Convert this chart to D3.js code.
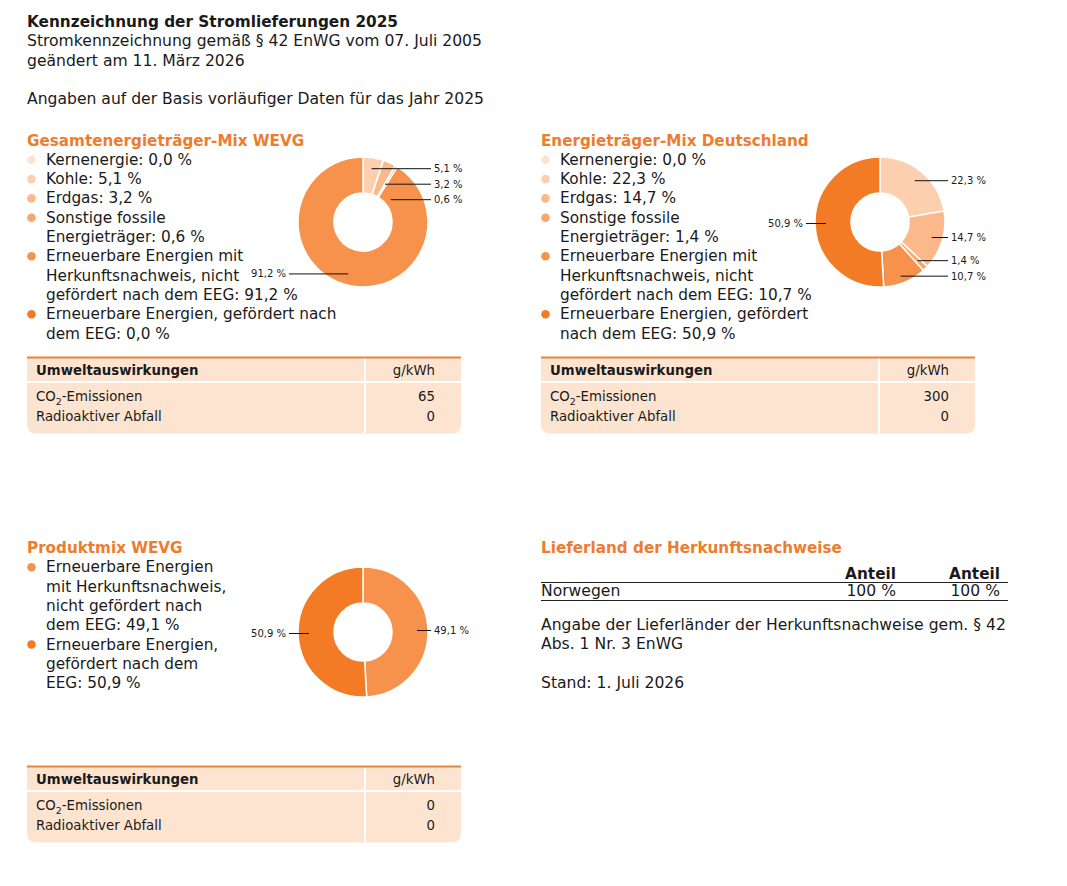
<!DOCTYPE html>
<html>
<head>
<meta charset="utf-8">
<script src="https://cdn.jsdelivr.net/npm/d3@7"></script>
<style>
  body { margin: 0; background: #fff; }
  svg { display: block; font-family: "DejaVu Sans", Verdana, sans-serif; }
  .title { font-weight: bold; fill: #ee7c2f; font-size: 15.2px; }
  .txt { fill: #1a1a1a; font-size: 15.3px; }
  .wide { font-size: 15.6px; }
  .small { fill: #1a1a1a; font-size: 10px; }
  .tbl { fill: #1a1a1a; font-size: 13.3px; }
</style>
</head>
<body>
<div id="chart"></div>
<script>
// ---- data ----
const headerLines = [
  "Kennzeichnung der Stromlieferungen 2025",
  "Stromkennzeichnung gemäß § 42 EnWG vom 07. Juli 2005",
  "geändert am 11. März 2026",
  "",
  "Angaben auf der Basis vorläufiger Daten für das Jahr 2025"
];

// energy source categories ("|" = line break in the legend)
const wevgCategories = [
  "Kernenergie", "Kohle", "Erdgas", "Sonstige fossile|Energieträger",
  "Erneuerbare Energien mit|Herkunftsnachweis, nicht|gefördert nach dem EEG",
  "Erneuerbare Energien, gefördert nach|dem EEG"
];
const wevgValues = [0.0, 5.1, 3.2, 0.6, 91.2, 0.0];

const deCategories = [
  "Kernenergie", "Kohle", "Erdgas", "Sonstige fossile|Energieträger",
  "Erneuerbare Energien mit|Herkunftsnachweis, nicht|gefördert nach dem EEG",
  "Erneuerbare Energien, gefördert|nach dem EEG"
];
const deValues = [0.0, 22.3, 14.7, 1.4, 10.7, 50.9];

const productCategories = [
  "Erneuerbare Energien|mit Herkunftsnachweis,|nicht gefördert nach|dem EEG",
  "Erneuerbare Energien,|gefördert nach dem|EEG"
];
const productValues = [49.1, 50.9];

const impactRows = ["CO2-Emissionen", "Radioaktiver Abfall"];
const wevgImpact = [65, 0];
const deImpact = [300, 0];
const productImpact = [0, 0];

const originCountries = ["Norwegen"];
const originShareA = [100];
const originShareB = [100];
const originNote = [
  "Angabe der Lieferländer der Herkunftsnachweise gem. § 42",
  "Abs. 1 Nr. 3 EnWG",
  "",
  "Stand: 1. Juli 2026"
];

// ---- styles ----
const mixColors = ['#fde3d0', '#fccfae', '#fbb98b', '#f9a66b', '#f6924b', '#f47b25'];
const productColors = [mixColors[4], mixColors[5]];
const tableBg = '#fde4d1';
const tableLine = '#e8863a';

const width = 1067, height = 886;
const de = d3.formatLocale({decimal: ",", thousands: ".", grouping: [3], currency: ["", "€"]});
const fmt1 = de.format(".1f");

const svg = d3.select('#chart').append('svg')
    .attr('width', width)
    .attr('height', height);

// header
svg.append('g').selectAll('text')
    .data(headerLines)
  .join('text')
    .attr('class', (d, i) => i === 0 ? 'txt' : 'txt wide')
    .attr('x', 27)
    .attr('y', (d, i) => 27 + i * 19.3)
    .style('font-weight', (d, i) => i === 0 ? 'bold' : null)
    .text(d => d);

const lineH = 19.3;

function drawLegend(x, y, title, cats, vals, colors) {
  const g = svg.append('g').attr('transform', `translate(${x},${y})`);
  g.append('text').attr('class', 'title').attr('y', 0).text(title);
  let row = 1;
  cats.forEach((c, i) => {
    const lines = c.split('|');
    lines[lines.length - 1] += `: ${fmt1(vals[i])} %`;
    g.append('circle')
      .attr('cx', 4.5)
      .attr('cy', row * lineH - 5)
      .attr('r', 4.3)
      .attr('fill', colors[i]);
    const t = g.append('text').attr('class', 'txt');
    lines.forEach((l, j) => {
      t.append('tspan').attr('x', 19).attr('y', (row + j) * lineH).text(l);
    });
    row += lines.length;
  });
}

function drawDonut(cx, cy, vals, colors) {
  const R = 65, r = 29;
  const g = svg.append('g').attr('transform', `translate(${cx},${cy})`);
  const pie = d3.pie().sort(null).value(d => d);
  const arcs = pie(vals);
  const arc = d3.arc().innerRadius(r).outerRadius(R);
  g.selectAll('path')
      .data(arcs.filter(d => d.value > 0))
    .join('path')
      .attr('d', arc)
      .attr('fill', d => colors[d.index])
      .attr('stroke', '#fff')
      .attr('stroke-width', 1.5);

  // labels: anchor on slice centre angle, horizontal leader to a side column
  const anchorR = 54;
  const labels = arcs.filter(d => d.value > 0).map(d => {
    const a = (d.startAngle + d.endAngle) / 2;
    return {
      value: d.value,
      ax: anchorR * Math.sin(a),
      ay: -anchorR * Math.cos(a),
      right: a < Math.PI
    };
  });
  ['right', 'left'].forEach(side => {
    const ls = labels.filter(l => (side === 'right') === l.right).sort((a, b) => a.ay - b.ay);
    ls.forEach(l => l.y = l.ay);
    for (let i = 1; i < ls.length; i++) {
      if (ls[i].y - ls[i - 1].y < 15.5) ls[i].y = ls[i - 1].y + 15.5;
    }
  });
  labels.forEach(l => {
    const lx = l.right ? R + 3 : -R - 9;
    g.append('line')
      .attr('x1', l.ax).attr('y1', l.y)
      .attr('x2', lx).attr('y2', l.y)
      .attr('stroke', '#111').attr('stroke-width', 1);
    g.append('text')
      .attr('class', 'small')
      .attr('x', l.right ? R + 6 : -R - 12)
      .attr('y', l.y)
      .attr('dy', '0.35em')
      .attr('text-anchor', l.right ? 'start' : 'end')
      .text(`${fmt1(l.value)} %`);
  });
}

function drawTable(x0, y0, vals) {
  const w = 434, h = 76, hh = 23.5, rad = 9, colX = 337, valX = 408;
  const g = svg.append('g').attr('transform', `translate(${x0},${y0})`);
  g.append('path')
    .attr('d', `M0,0H${w}V${h - rad}Q${w},${h} ${w - rad},${h}H${rad}Q0,${h} 0,${h - rad}Z`)
    .attr('fill', tableBg);
  g.append('rect').attr('x', 0).attr('y', hh).attr('width', w).attr('height', 2).attr('fill', '#fff');
  g.append('rect').attr('x', colX).attr('y', 0).attr('width', 2).attr('height', h).attr('fill', '#fff');
  g.append('rect').attr('x', 0).attr('y', -1).attr('width', w).attr('height', 2).attr('fill', tableLine);
  g.append('text').attr('class', 'tbl').attr('x', 9).attr('y', 17.5)
    .style('font-weight', 'bold').text('Umweltauswirkungen');
  g.append('text').attr('class', 'tbl').attr('x', valX).attr('y', 17.5)
    .attr('text-anchor', 'end').text('g/kWh');
  const rows = g.selectAll('.row')
      .data(impactRows)
    .join('g')
      .attr('class', 'row')
      .attr('transform', (d, i) => `translate(0,${43.5 + i * 20})`);
  rows.append('text').attr('class', 'tbl').attr('x', 9)
    .each(function(d) {
      const t = d3.select(this);
      if (d.startsWith('CO2')) {
        t.append('tspan').text('CO');
        t.append('tspan').attr('dy', 4).style('font-size', '9.5px').text('2');
        t.append('tspan').attr('dy', -4).text(d.slice(3));
      } else {
        t.text(d);
      }
    });
  rows.append('text').attr('class', 'tbl').attr('x', valX).attr('text-anchor', 'end')
    .text((d, i) => vals[i]);
}

// panels
drawLegend(27, 145.5, 'Gesamtenergieträger-Mix WEVG', wevgCategories, wevgValues, mixColors);
drawDonut(363, 222, wevgValues, mixColors);
drawTable(27, 357.5, wevgImpact);

drawLegend(541, 145.5, 'Energieträger-Mix Deutschland', deCategories, deValues, mixColors);
drawDonut(880, 222, deValues, mixColors);
drawTable(541, 357.5, deImpact);

drawLegend(27, 553, 'Produktmix WEVG', productCategories, productValues, productColors);
drawDonut(363, 632, productValues, productColors);
drawTable(27, 766.5, productImpact);

// Lieferland der Herkunftsnachweise
const lg = svg.append('g').attr('transform', 'translate(541,553)');
lg.append('text').attr('class', 'title').text('Lieferland der Herkunftsnachweise');
const colA = 355, colB = 459, tw = 467;
lg.append('text').attr('class', 'txt').attr('x', colA).attr('y', 26)
  .attr('text-anchor', 'end').style('font-weight', 'bold').text('Anteil');
lg.append('text').attr('class', 'txt').attr('x', colB).attr('y', 26)
  .attr('text-anchor', 'end').style('font-weight', 'bold').text('Anteil');
lg.append('line').attr('x1', 0).attr('x2', tw).attr('y1', 29.5).attr('y2', 29.5)
  .attr('stroke', '#222').attr('stroke-width', 1);
const orow = lg.selectAll('.orow')
    .data(originCountries)
  .join('g')
    .attr('class', 'orow')
    .attr('transform', (d, i) => `translate(0,${42.5 + i * 18})`);
orow.append('text').attr('class', 'txt wide').text(d => d);
orow.append('text').attr('class', 'txt wide').attr('x', colA).attr('text-anchor', 'end')
  .text((d, i) => `${originShareA[i]} %`);
orow.append('text').attr('class', 'txt wide').attr('x', colB).attr('text-anchor', 'end')
  .text((d, i) => `${originShareB[i]} %`);
lg.append('line').attr('x1', 0).attr('x2', tw)
  .attr('y1', 47.5 + (originCountries.length - 1) * 18).attr('y2', 47.5 + (originCountries.length - 1) * 18)
  .attr('stroke', '#222').attr('stroke-width', 1);
lg.selectAll('.note')
    .data(originNote)
  .join('text')
    .attr('class', 'txt wide note')
    .attr('y', (d, i) => 77 + i * 19.3)
    .text(d => d);
</script>
</body>
</html>
